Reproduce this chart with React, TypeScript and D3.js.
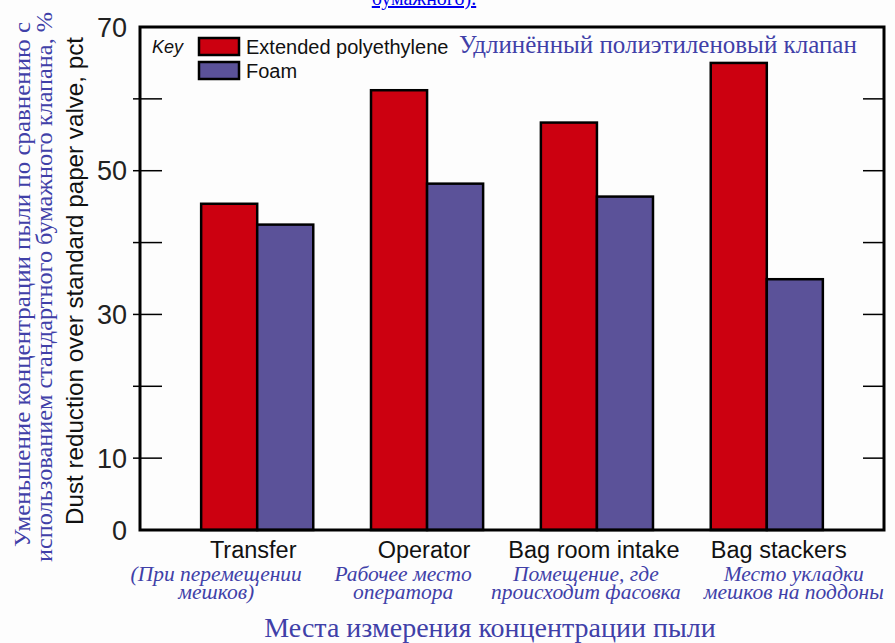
import React from 'react';
import * as d3 from 'd3';

// Data
const categories = ['Transfer', 'Operator', 'Bag room intake', 'Bag stackers'];
const categoriesRu = [
  ['(При перемещении', 'мешков)'],
  ['Рабочее место', 'оператора'],
  ['Помещение, где', 'происходит фасовка'],
  ['Место укладки', 'мешков на поддоны'],
];
const seriesNames = ['Extended polyethylene', 'Foam'];
const polyethylene = [45.4, 61.2, 56.7, 65.0];
const foam = [42.5, 48.2, 46.4, 34.9];
const yTickLabels = [0, 10, 30, 50, 70];
const yMinorTicks = [10, 20, 30, 40, 50, 60];

const colors = ['#cc0010', '#5b5299'];
const ruBlue = '#4040a8';

// label nudges relative to group centre (the labels are not quite centred in the original)
const labelDx = [-4, -3, -3, 12];
const labelRuDx = [-41, -24, -11, 27];

const W = 895;
const H = 643;
const plot = { left: 140, right: 884, top: 27, bottom: 530 };

const App: React.FC = () => {
  const y = d3.scaleLinear().domain([0, 70]).range([plot.bottom, plot.top]);
  const x0 = d3.scaleBand<string>()
    .domain(categories)
    .range([plot.left, plot.right])
    .paddingInner(0.34)
    .paddingOuter(0.36);
  const x1 = d3.scaleBand<string>().domain(seriesNames).range([0, x0.bandwidth()]);
  const series = [polyethylene, foam];

  return (
    <svg
      width={W}
      height={H}
      style={{ position: 'absolute', left: 0, top: 0, background: '#fdfdfd' }}
    >
      {/* cut-off link text at the very top */}
      <text
        x={424}
        y={5}
        textAnchor="middle"
        fontFamily="Liberation Serif"
        fontSize={20}
        fill="#0000ee"
        textDecoration="underline"
      >
        бумажного).
      </text>

      {/* bars */}
      {categories.map((c, i) => (
        <g key={c} transform={`translate(${x0(c)},0)`}>
          {series.map((s, j) => (
            <rect
              key={j}
              x={x1(seriesNames[j])}
              y={y(s[i])}
              width={x1.bandwidth()}
              height={y(0) - y(s[i])}
              fill={colors[j]}
              stroke="#000"
              strokeWidth={2.5}
            />
          ))}
        </g>
      ))}

      {/* frame */}
      <rect
        x={plot.left}
        y={plot.top}
        width={plot.right - plot.left}
        height={plot.bottom - plot.top}
        fill="none"
        stroke="#000"
        strokeWidth={3}
      />

      {/* ticks */}
      {yMinorTicks.map(t => (
        <g key={t}>
          <line x1={133} x2={162} y1={y(t)} y2={y(t)} stroke="#000" strokeWidth={1.5} />
          <line x1={plot.right - 21} x2={plot.right} y1={y(t)} y2={y(t)} stroke="#000" strokeWidth={1.5} />
        </g>
      ))}
      {yTickLabels.map(t => (
        <text
          key={t}
          x={127}
          y={y(t)}
          dy="0.36em"
          textAnchor="end"
          fontFamily="Liberation Sans, Arial"
          fontSize={27}
          fill="#222"
        >
          {t}
        </text>
      ))}

      {/* y axis titles */}
      <text
        transform={`translate(83,525) rotate(-90)`}
        fontFamily="Liberation Sans, Arial"
        fontSize={24}
        textLength={488}
        lengthAdjust="spacingAndGlyphs"
        fill="#111"
      >
        Dust reduction over standard paper valve, pct
      </text>
      <text
        transform={`translate(30,547) rotate(-90)`}
        fontFamily="Liberation Serif"
        fontSize={23.5}
        textLength={525}
        lengthAdjust="spacingAndGlyphs"
        fill={ruBlue}
      >
        Уменьшение концентрации пыли по сравнению с
      </text>
      <text
        transform={`translate(52,562) rotate(-90)`}
        fontFamily="Liberation Serif"
        fontSize={23.5}
        textLength={550}
        lengthAdjust="spacingAndGlyphs"
        fill={ruBlue}
      >
        использованием стандартного бумажного клапана, %
      </text>

      {/* legend */}
      <text x={152} y={53} fontFamily="Liberation Sans, Arial" fontStyle="italic" fontSize={18} fill="#111">
        Key
      </text>
      {seriesNames.map((n, j) => (
        <g key={n} transform={`translate(199,${38 + j * 24})`}>
          <rect width={40} height={17} fill={colors[j]} stroke="#000" strokeWidth={2.5} />
          <text x={47} y={16} fontFamily="Liberation Sans, Arial" fontSize={20} fill="#111">
            {n}
          </text>
        </g>
      ))}
      <text x={459} y={53} fontFamily="Liberation Serif" fontSize={25} fill={ruBlue}>
        Удлинённый полиэтиленовый клапан
      </text>

      {/* x labels */}
      {categories.map((c, i) => {
        const cx = (x0(c) as number) + x0.bandwidth() / 2;
        return (
          <g key={c}>
            <text
              x={cx + labelDx[i]}
              y={558}
              textAnchor="middle"
              fontFamily="Liberation Sans, Arial"
              fontSize={23.5}
              fill="#111"
            >
              {c}
            </text>
            {categoriesRu[i].map((l, k) => (
              <text
                key={k}
                x={cx + labelRuDx[i]}
                y={581 + k * 18}
                textAnchor="middle"
                fontFamily="Liberation Serif"
                fontStyle="italic"
                fontSize={21.5}
                fill={ruBlue}
              >
                {l}
              </text>
            ))}
          </g>
        );
      })}

      <text x={490} y={637} textAnchor="middle" fontFamily="Liberation Serif" fontSize={28} fill={ruBlue}>
        Места измерения концентрации пыли
      </text>
    </svg>
  );
};

export default App;
